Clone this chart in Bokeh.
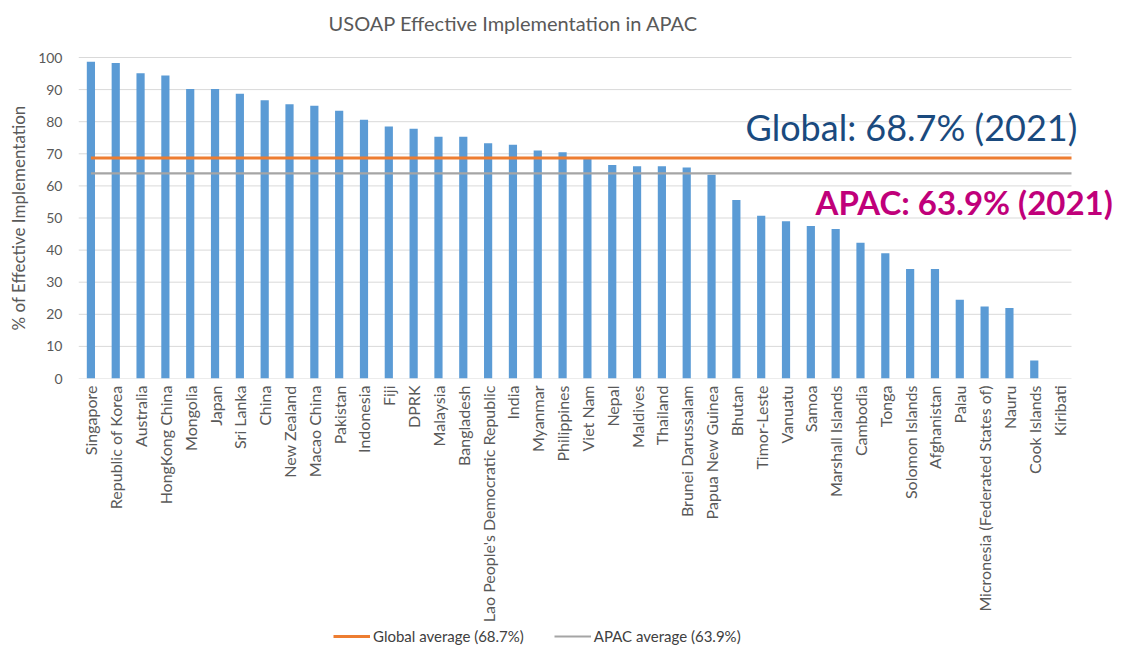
from bokeh.plotting import figure
from bokeh.layouts import column
from bokeh.models import (Range1d, FixedTicker, Label, Legend, LegendItem, Title,
                          ColumnDataSource)
from bokeh.embed import file_html
from bokeh.resources import INLINE
import math

countries = ["Singapore", "Republic of Korea", "Australia", "HongKong China", "Mongolia",
             "Japan", "Sri Lanka", "China", "New Zealand", "Macao China", "Pakistan",
             "Indonesia", "Fiji", "DPRK", "Malaysia", "Bangladesh",
             "Lao People's Democratic Republic", "India", "Myanmar", "Philippines",
             "Viet Nam", "Nepal", "Maldives", "Thailand", "Brunei Darussalam",
             "Papua New Guinea", "Bhutan", "Timor-Leste", "Vanuatu", "Samoa",
             "Marshall Islands", "Cambodia", "Tonga", "Solomon Islands", "Afghanistan",
             "Palau", "Micronesia (Federated States of)", "Nauru", "Cook Islands", "Kiribati"]
ei_values = [98.7, 98.3, 95.1, 94.4, 90.2, 90.2, 88.7, 86.7, 85.4, 85.0, 83.4,
             80.6, 78.5, 77.8, 75.3, 75.3, 73.3, 72.8, 71.0, 70.5,
             68.5, 66.5, 66.1, 66.1, 65.7, 63.5, 55.6, 50.7, 49.0, 47.5,
             46.6, 42.3, 39.0, 34.1, 34.1, 24.5, 22.4, 22.0, 5.6, 0.0]
global_avg = 68.7
apac_avg = 63.9
y_ticks = list(range(0, 101, 10))

FONT = "Lato"
GREY = "#595959"
GRID = "#D9D9D9"

n = len(countries)
idx = list(range(n))
band_px = 24.825
unit_px = 3.21
frame_w = 1039
frame_h = 378

p = figure(x_range=Range1d(-0.5, -0.5 + frame_w / band_px),
           y_range=Range1d(0, frame_h / unit_px),
           frame_width=frame_w, frame_height=frame_h, output_backend="svg",
           toolbar_location=None, title=None,
           min_border_left=75, min_border_right=0, min_border_top=0,
           min_border_bottom=0)
p.outline_line_color = None

# horizontal gridlines spanning only the category bands
p.segment(x0=[-0.5] * len(y_ticks), x1=[n - 0.5] * len(y_ticks), y0=y_ticks, y1=y_ticks,
          line_color=GRID, line_width=1)

src = ColumnDataSource(dict(x=idx, top=ei_values))
p.vbar(x="x", top="top", width=0.33, source=src, fill_color="#5B9BD5",
       line_color=None)

line_x = [idx[0], idx[-1] + 0.5]
g_line = p.line(x=line_x, y=[global_avg, global_avg], line_color="#ED7D31", line_width=3)
a_line = p.line(x=line_x, y=[apac_avg, apac_avg], line_color="#A5A5A5", line_width=2.2)

# axes
p.xgrid.grid_line_color = None
p.ygrid.grid_line_color = None

p.yaxis.ticker = FixedTicker(ticks=y_ticks)
p.yaxis.bounds = (0, 100)
p.yaxis.axis_line_color = None
p.yaxis.major_tick_line_color = None
p.yaxis.minor_tick_line_color = None
p.yaxis.major_tick_out = 0
p.yaxis.major_tick_in = 0
p.yaxis.major_label_text_font = FONT
p.yaxis.major_label_text_font_size = "14px"
p.yaxis.major_label_text_color = GREY
p.yaxis.major_label_standoff = 16

# y-axis title, placed along the 0-100 part of the axis
p.add_layout(Title(text="% of Effective Implementation", align="left", offset=48,
                   vertical_align="middle", standoff=12, text_font=FONT,
                   text_font_size="17px", text_font_style="normal",
                   text_color=GREY), "left")

p.xaxis.ticker = FixedTicker(ticks=idx)
p.xaxis.major_label_overrides = {i: c for i, c in zip(idx, countries)}
p.xaxis.axis_line_color = None
p.xaxis.major_tick_line_color = None
p.xaxis.minor_tick_line_color = None
p.xaxis.major_tick_out = 0
p.xaxis.major_tick_in = 0
p.xaxis.major_label_orientation = math.pi / 2
p.xaxis.major_label_text_font = FONT
p.xaxis.major_label_text_font_size = "16px"
p.xaxis.major_label_text_color = GREY
p.xaxis.major_label_standoff = 7

# title and annotations
p.add_layout(Label(x=17.02, y=110.6, text="USOAP Effective Implementation in APAC",
                   text_align="center", text_baseline="middle",
                   text_font=FONT, text_font_size="20px", text_color=GREY))
p.add_layout(Label(x=26.37, y=78.5, text="Global: 68.7% (2021)", text_align="left",
                   text_baseline="alphabetic", text_font=FONT, text_font_size="36px",
                   text_color="#1A4A7E"))
p.add_layout(Label(x=29.19, y=54.9, text="APAC: 63.9% (2021)", text_align="left",
                   text_baseline="alphabetic", text_font=FONT, text_font_size="33px",
                   text_font_style="bold", text_color="#C0007A"))

# legend strip below
lg = figure(x_range=Range1d(0, 1), y_range=Range1d(0, 1), width=1114, height=24,
            output_backend="svg", toolbar_location=None, title=None,
            x_axis_location=None, y_axis_location=None,
            min_border_left=0, min_border_right=0, min_border_top=0, min_border_bottom=0)
lg.outline_line_color = None
lg.xgrid.visible = False
lg.ygrid.visible = False
lg_g = lg.line(x=[5, 6], y=[5, 5], line_color="#ED7D31", line_width=3)
lg_a = lg.line(x=[5, 6], y=[5, 5], line_color="#A5A5A5", line_width=2.2)
legend = Legend(items=[LegendItem(label="Global average (68.7%)", renderers=[lg_g]),
                       LegendItem(label="APAC average (63.9%)", renderers=[lg_a])],
                orientation="horizontal", location=(255, 4),
                label_text_font=FONT, label_text_font_size="15px",
                label_text_color="#404040", glyph_width=37, glyph_height=16,
                label_height=16, label_standoff=3, spacing=30, padding=0, margin=0,
                border_line_color=None, background_fill_alpha=0)
lg.add_layout(legend)

layout = column(p, lg, spacing=0)
open("out.html", "w").write(file_html(layout, INLINE))
